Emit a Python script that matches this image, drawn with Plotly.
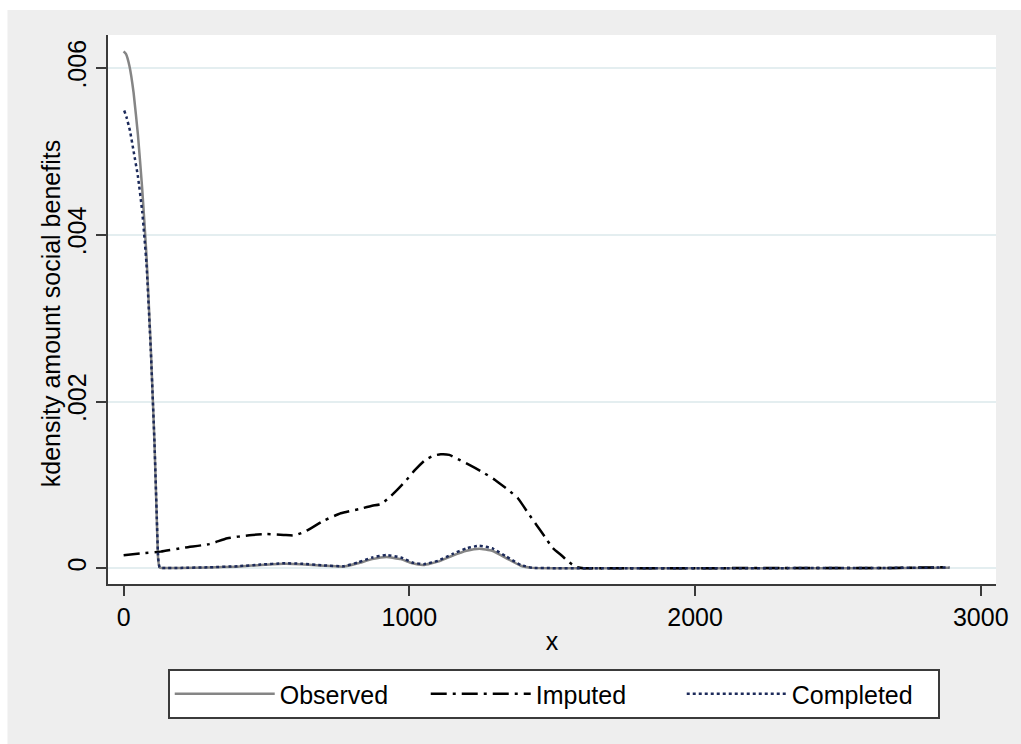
import plotly.graph_objects as go

# ---- data ----
obs_x = [0, 8, 20, 35, 50, 65, 80, 95, 108, 116, 121, 126, 135, 200, 300, 400, 480, 560, 620, 700, 770,
         820, 870, 920, 970, 1010, 1050, 1100, 1150, 1200, 1245, 1290, 1340, 1390, 1430, 1500, 1700,
         2000, 2300, 2600, 2890]
obs_y = [0.00620, 0.00617, 0.00603, 0.00570, 0.00520, 0.00455, 0.00375, 0.00265, 0.00150, 0.00060,
         0.00010, 0.000008, 0.000003, 0.000004, 0.00001, 0.00002, 0.00004, 0.000055, 0.00005, 0.00003, 0.00002,
         0.00006, 0.00011, 0.000135, 0.00011, 0.00006, 0.00004, 0.00008, 0.00015, 0.00021, 0.000235,
         0.00021, 0.00012, 0.00003, 0.000005, 0.000001, 0.000001, 0.000001, 0.000001, 0.000001, 0.000008]

imp_x = [0, 60, 130, 215, 300, 363, 440, 500, 560, 600, 640, 700, 760, 823, 870, 900, 930, 960, 990,
         1020, 1056, 1085, 1110, 1140, 1170, 1210, 1253, 1300, 1346, 1380, 1416, 1445, 1474, 1500, 1532,
         1560, 1584, 1610, 1700, 1900, 2100, 2300, 2500, 2700, 2800, 2890]
imp_y = [0.000156, 0.00018, 0.00020, 0.00025, 0.00029, 0.00036, 0.000396, 0.00041, 0.00040, 0.000396,
         0.00045, 0.00057, 0.00066, 0.00071, 0.00075, 0.00077, 0.00085, 0.00095, 0.00106, 0.00118,
         0.00130, 0.00135, 0.001368, 0.00136, 0.00131, 0.00124, 0.00116, 0.00106, 0.00094, 0.00084,
         0.00066, 0.00052, 0.00038, 0.00025, 0.000156, 0.00007, 0.000016, 0.000002, 0.000002, 0.000002,
         0.000002, 0.000003, 0.000003, 0.000004, 0.00001, 0.000012]

com_x = [2, 10, 22, 35, 50, 65, 80, 95, 108, 116, 121, 126, 135, 200, 300, 400, 480, 560, 620, 700, 770,
         820, 870, 920, 970, 1010, 1050, 1100, 1150, 1200, 1245, 1290, 1340, 1390, 1430, 1500, 1700,
         2000, 2300, 2600, 2890]
com_y = [0.00549, 0.00541, 0.00525, 0.00500, 0.00470, 0.00428, 0.00365, 0.00262, 0.00150, 0.00062,
         0.00012, 0.00001, 0.000005, 0.000005, 0.000012, 0.000025, 0.000045, 0.00006, 0.000055, 0.000035, 0.000025,
         0.00007, 0.00013, 0.00016, 0.00013, 0.00007, 0.00005, 0.00009, 0.00017, 0.00024, 0.00027,
         0.00024, 0.00014, 0.00004, 0.000006, 0.000002, 0.000002, 0.000002, 0.000002, 0.000003, 0.00001]

y_ticks = [0, 0.002, 0.004, 0.006]
y_ticktext = ["0", ".002", ".004", ".006"]
x_ticks = [0, 1000, 2000, 3000]
x_ticktext = ["0", "1000", "2000", "3000"]
y_title = "kdensity amount social benefits"
x_title = "x"

FONT = "Liberation Sans, Arial, sans-serif"
BG = "#EEEEEE"
AX = "#3a3a3a"

fig = go.Figure()
fig.add_trace(go.Scatter(x=obs_x, y=obs_y, mode="lines", name="Observed",
                         line=dict(color="#858585", width=2.5, shape="spline", smoothing=0.4)))
fig.add_trace(go.Scatter(x=imp_x, y=imp_y, mode="lines", name="Imputed",
                         line=dict(color="#000000", width=2.5, dash="16px,6px,3px,6px",
                                   shape="spline", smoothing=0.5)))
fig.add_trace(go.Scatter(x=com_x, y=com_y, mode="lines", name="Completed",
                         line=dict(color="#1c2a5a", width=2.5, dash="3px,3px",
                                   shape="spline", smoothing=0.4)))

W, H = 1021, 744
L, R, T, B = 108, 21, 35, 160
pw, ph = W - L - R, H - T - B


def px_x(p):
    return (p - L) / pw


def px_y(p):
    return (H - B - p) / ph


fig.update_layout(
    width=W, height=H,
    margin=dict(l=L, r=R, t=T, b=B, pad=0),
    paper_bgcolor="white",
    plot_bgcolor="white",
    font=dict(family=FONT, size=25, color="#000000"),
    showlegend=True,
    legend=dict(
        orientation="h",
        x=px_x(168), y=px_y(669), xanchor="left", yanchor="top",
        bgcolor="white", bordercolor=AX, borderwidth=2,
        font=dict(family=FONT, size=25, color="#000000"),
        itemwidth=100,
        entrywidth=141,
        traceorder="normal",
    ),
    shapes=[
        dict(type="rect", xref="paper", yref="paper", layer="below",
             x0=px_x(7), x1=px_x(W + 5), y0=px_y(H + 5), y1=px_y(10),
             fillcolor=BG, line=dict(width=0)),
        dict(type="rect", xref="paper", yref="paper", layer="below",
             x0=0, x1=1, y0=0, y1=1, fillcolor="white", line=dict(width=0)),
    ],
    annotations=[
        dict(text=y_title, xref="paper", yref="paper", x=px_x(51), y=px_y(314),
             xanchor="center", yanchor="middle", textangle=-90, showarrow=False,
             font=dict(family=FONT, size=25, color="#000000")),
    ],
    xaxis=dict(
        range=[(L - 123.7) / 0.287, (W - R - 123.7) / 0.287],
        tickvals=x_ticks, ticktext=x_ticktext,
        showgrid=False, zeroline=False,
        showline=True, linecolor=AX, linewidth=2,
        ticks="outside", ticklen=10, tickwidth=2, tickcolor=AX,
        tickfont=dict(family=FONT, size=25),
        title=dict(text=x_title, font=dict(family=FONT, size=25), standoff=2),
    ),
    yaxis=dict(
        range=[(568.3 - (H - B)) / 83383, (568.3 - T) / 83383],
        tickvals=y_ticks, ticktext=y_ticktext, tickangle=-90,
        showgrid=True, gridcolor="#E4EEF0", gridwidth=1.5, zeroline=False,
        showline=True, linecolor=AX, linewidth=2,
        ticks="outside", ticklen=10, tickwidth=2, tickcolor=AX,
        tickfont=dict(family=FONT, size=25),
    ),
)

fig.write_html("out.html")
